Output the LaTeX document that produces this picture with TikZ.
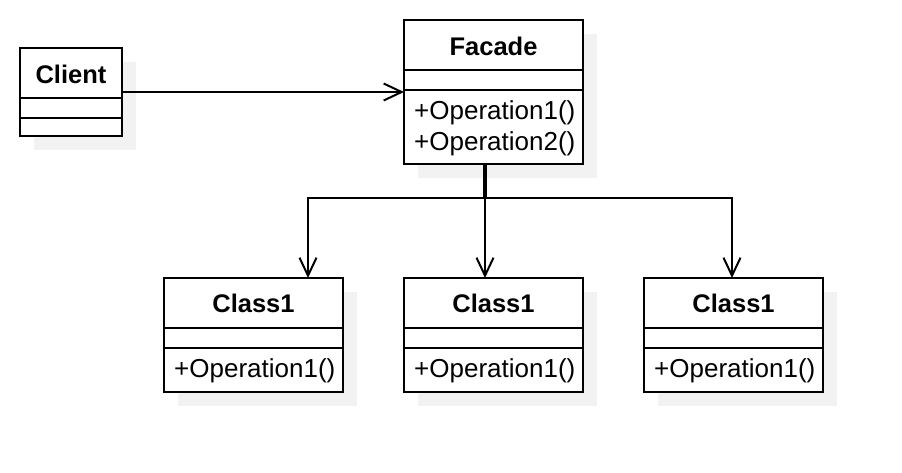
\documentclass[tikz,border=0pt]{standalone}
\usepackage{fontspec}
\setmainfont{Liberation Sans}
\usetikzlibrary{arrows.meta}
\definecolor{shade}{RGB}{242,242,242}
\begin{document}
\begin{tikzpicture}[x=1pt,y=-1pt,
 box/.style={draw=black, line width=2pt, fill=white, rectangle, inner sep=0pt, outer sep=0pt, anchor=north west},
 sep/.style={line width=2pt},
 shadow/.style={fill=shade},
 title/.style={font=\fontsize{25.5}{30}\selectfont\bfseries, inner sep=0pt},
 op/.style={font=\fontsize{26}{30}\selectfont, anchor=west, inner sep=0pt},
 arr/.style={line width=2pt, -{Straight Barb[length=18pt,width=17pt,line width=2pt]}},
 trunk/.style={line width=4pt}]
\useasboundingbox (0,0) rectangle (902,472);
% shadows
\fill[shadow] (34,62) rectangle (136,150);
\fill[shadow] (418,34) rectangle (597,178);
\fill[shadow] (178,292) rectangle (357,406);
\fill[shadow] (418,292) rectangle (597,406);
\fill[shadow] (658,292) rectangle (837,406);
% Client
\node[box, minimum width=102pt, minimum height=88pt] (client) at (20,48) {};
\draw[sep] (client.west |- 0,98) -- (client.east |- 0,98);
\draw[sep] (client.west |- 0,118) -- (client.east |- 0,118);
\node[title] (clientname) at (71,74) {Client};
% Facade
\node[box, minimum width=179pt, minimum height=144pt] (facade) at (404,20) {};
\draw[sep] (facade.west |- 0,70) -- (facade.east |- 0,70);
\draw[sep] (facade.west |- 0,90) -- (facade.east |- 0,90);
\node[title] (facadename) at (493.5,46) {Facade};
\node[op] (fop1) at (414,113) {+Operation1()};
\node[op] (fop2) at (414,144) {+Operation2()};
% Classes
\node[box, minimum width=179pt, minimum height=114pt] (c1) at (164,278) {};
\node[box, minimum width=179pt, minimum height=114pt] (c2) at (404,278) {};
\node[box, minimum width=179pt, minimum height=114pt] (c3) at (644,278) {};
\foreach \c/\x in {c1/253.5,c2/493.5,c3/733.5}{
  \draw[sep] (\c.west |- 0,328) -- (\c.east |- 0,328);
  \draw[sep] (\c.west |- 0,348) -- (\c.east |- 0,348);
  \node[title] (\c name) at (\x,303.5) {Class1};
  \node[op] (\c op) at (\x-79.5,371) {+Operation1()};
}
% connectors
\draw[arr] (client.east) -- (facade.west);
\coordinate (j) at (485,198);
\draw[trunk] ([xshift=-8.5pt]facade.south) -- (j);
\draw[arr] (j) -| ([xshift=54.5pt]c1.north);
\draw[arr] (j) -| ([xshift=-1.5pt]c3.north);
\draw[arr] (j) -- (j |- c2.north);
\end{tikzpicture}
\end{document}
